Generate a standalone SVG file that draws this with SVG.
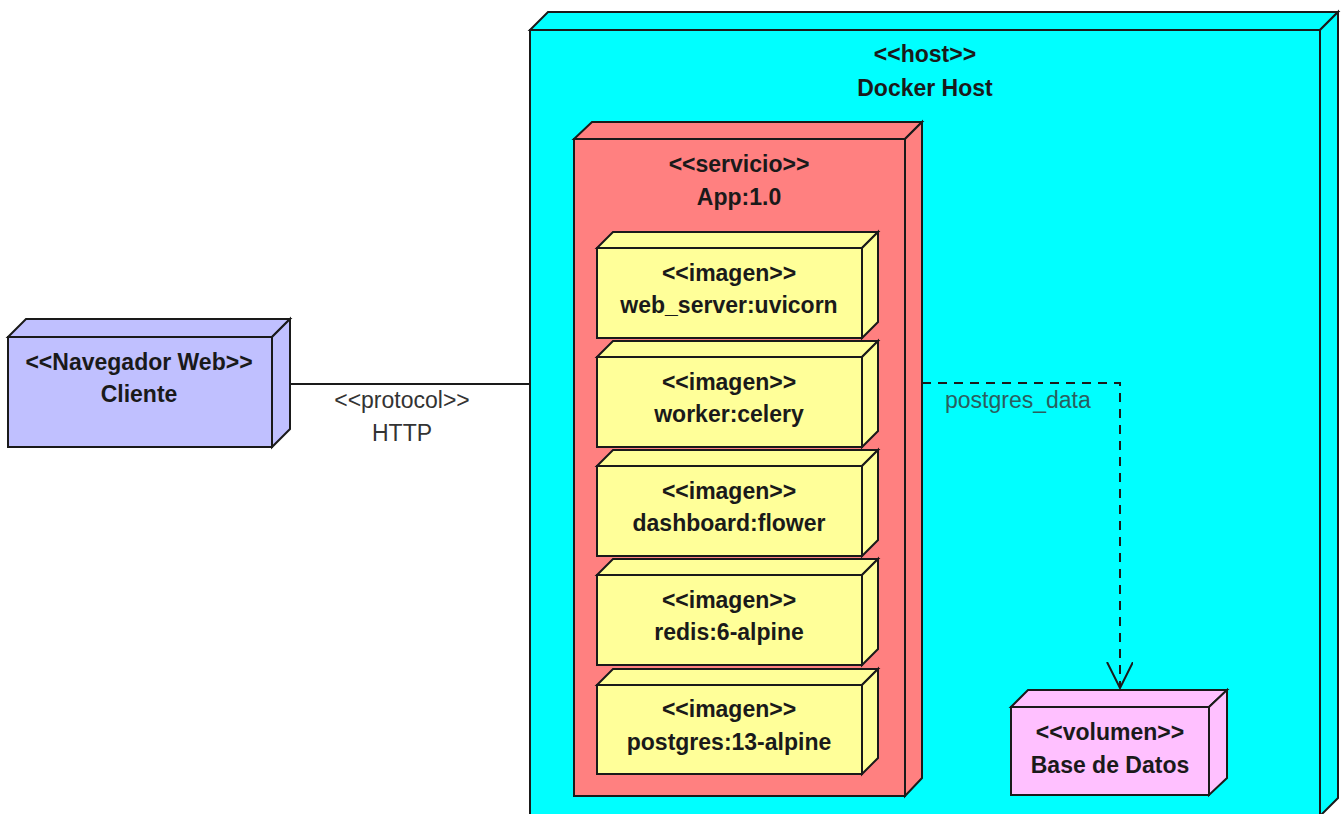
<svg xmlns="http://www.w3.org/2000/svg" width="1342" height="814" viewBox="0 0 1342 814">
<defs>
<style>
.n{stroke:#1a1a1a;stroke-width:2;stroke-linejoin:miter}
.host{fill:#00FFFF}
.app{fill:#FF8080}
.img{fill:#FFFF99}
.cli{fill:#C0C0FF}
.vol{fill:#FFC0FF}
.t{font-family:"Liberation Sans",Arial,sans-serif;font-size:23px;font-weight:bold;fill:#1a1a1a;text-anchor:middle}
.r{font-family:"Liberation Sans",Arial,sans-serif;font-size:23px;fill:#333;text-anchor:middle}
.c{fill:none;stroke:#1a1a1a;stroke-width:2}
</style>
<marker id="open" markerWidth="30" markerHeight="30" refX="26" refY="13" orient="auto" markerUnits="userSpaceOnUse">
<path d="M0,0 L26,13 L0,26" fill="none" stroke="#1a1a1a" stroke-width="2"/>
</marker>
</defs>
<rect width="1342" height="814" fill="#ffffff"/>

<g id="docker-host">
<polygon class="n host" points="530,30 548,12 1338,12 1320,30"/>
<polygon class="n host" points="1320,30 1338,12 1338,798 1320,816"/>
<rect class="n host" x="530" y="30" width="790" height="786"/>
<text class="t" x="925" y="62">&lt;&lt;host&gt;&gt;</text>
<text class="t" x="925" y="96">Docker Host</text>
</g>

<g id="cliente">
<polygon class="n cli" points="8,337 26,319 290,319 272,337"/>
<polygon class="n cli" points="272,337 290,319 290,429 272,447"/>
<rect class="n cli" x="8" y="337" width="264" height="110"/>
<text class="t" x="139" y="370">&lt;&lt;Navegador Web&gt;&gt;</text>
<text class="t" x="139" y="402">Cliente</text>
</g>

<g id="app">
<polygon class="n app" points="574,139 592,122 922,122 905,139"/>
<polygon class="n app" points="905,139 922,122 922,778 905,796"/>
<rect class="n app" x="574" y="139" width="331" height="657"/>
<text class="t" x="739" y="172">&lt;&lt;servicio&gt;&gt;</text>
<text class="t" x="739" y="205">App:1.0</text>
</g>

<g id="web-server">
<polygon class="n img" points="597,248 613,232 878,232 862,248"/>
<polygon class="n img" points="862,248 878,232 878,322 862,338"/>
<rect class="n img" x="597" y="248" width="265" height="90"/>
<text class="t" x="729" y="281">&lt;&lt;imagen&gt;&gt;</text>
<text class="t" x="729" y="313">web_server:uvicorn</text>
</g>

<g id="worker">
<polygon class="n img" points="597,357 613,341 878,341 862,357"/>
<polygon class="n img" points="862,357 878,341 878,431 862,447"/>
<rect class="n img" x="597" y="357" width="265" height="90"/>
<text class="t" x="729" y="390">&lt;&lt;imagen&gt;&gt;</text>
<text class="t" x="729" y="422">worker:celery</text>
</g>

<g id="dashboard">
<polygon class="n img" points="597,466 613,450 878,450 862,466"/>
<polygon class="n img" points="862,466 878,450 878,540 862,556"/>
<rect class="n img" x="597" y="466" width="265" height="90"/>
<text class="t" x="729" y="499">&lt;&lt;imagen&gt;&gt;</text>
<text class="t" x="729" y="531">dashboard:flower</text>
</g>

<g id="redis">
<polygon class="n img" points="597,575 613,559 878,559 862,575"/>
<polygon class="n img" points="862,575 878,559 878,649 862,665"/>
<rect class="n img" x="597" y="575" width="265" height="90"/>
<text class="t" x="729" y="608">&lt;&lt;imagen&gt;&gt;</text>
<text class="t" x="729" y="640">redis:6-alpine</text>
</g>

<g id="postgres">
<polygon class="n img" points="597,685 613,669 878,669 862,685"/>
<polygon class="n img" points="862,685 878,669 878,758 862,774"/>
<rect class="n img" x="597" y="685" width="265" height="89"/>
<text class="t" x="729" y="717">&lt;&lt;imagen&gt;&gt;</text>
<text class="t" x="729" y="750">postgres:13-alpine</text>
</g>

<g id="base-de-datos">
<polygon class="n vol" points="1011,707 1028,690 1227,690 1209,707"/>
<polygon class="n vol" points="1209,707 1227,690 1227,778 1209,795"/>
<rect class="n vol" x="1011" y="707" width="198" height="88"/>
<text class="t" x="1110" y="740">&lt;&lt;volumen&gt;&gt;</text>
<text class="t" x="1110" y="773">Base de Datos</text>
</g>

<g id="connectors">
<line class="c" x1="290" y1="384" x2="530" y2="384"/>
<text class="r" x="402" y="408">&lt;&lt;protocol&gt;&gt;</text>
<text class="r" x="402" y="441">HTTP</text>
<path class="c" d="M922,383 L1120,383 L1120,688" stroke-dasharray="9,7" marker-end="url(#open)"/>
<text class="r" x="945" y="408" style="text-anchor:start;fill:#2a5e5e">postgres_data</text>
</g>
</svg>
